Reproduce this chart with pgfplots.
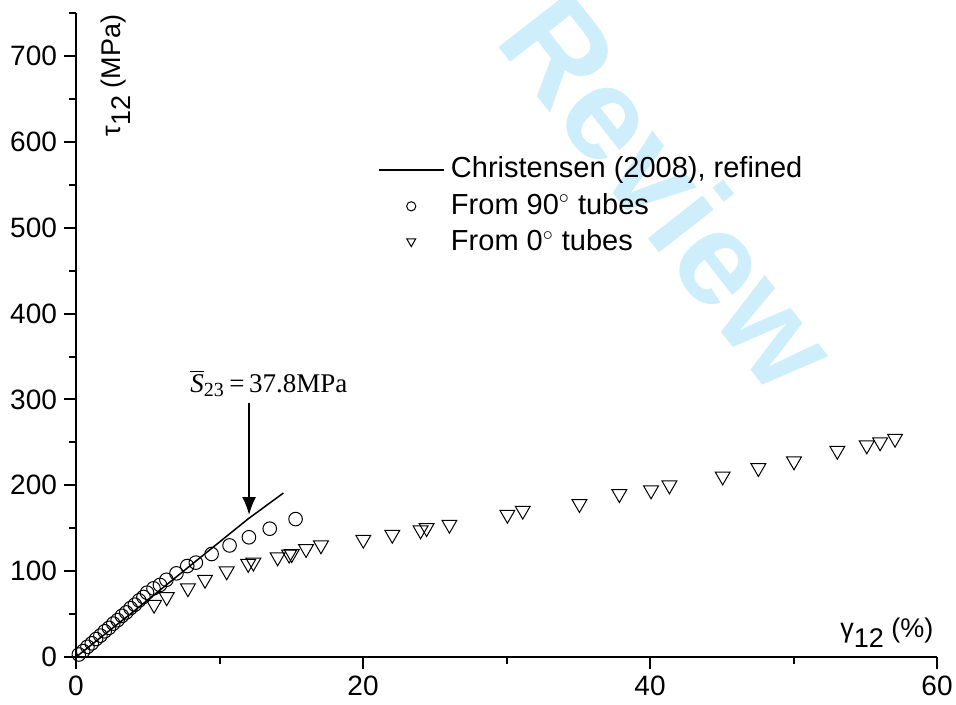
\documentclass[border=0pt]{standalone}
\usepackage{pgfplots}
\pgfplotsset{compat=1.18}
\usepackage{fontspec}
\setmainfont{Liberation Sans}
\newfontfamily\timesf{Liberation Serif}
\usetikzlibrary{arrows.meta}
\definecolor{wm}{RGB}{207,238,252}
\pgfdeclareplotmark{dtri}{%
  \pgfpathmoveto{\pgfqpoint{-0.866\pgfplotmarksize}{0.75\pgfplotmarksize}}%
  \pgfpathlineto{\pgfqpoint{0.866\pgfplotmarksize}{0.75\pgfplotmarksize}}%
  \pgfpathlineto{\pgfqpoint{0pt}{-0.75\pgfplotmarksize}}%
  \pgfpathclose\pgfusepathqstroke}
\begin{document}
\begin{tikzpicture}
\begin{axis}[
  scale only axis, width=430.5pt, height=322pt,
  xmin=0, xmax=60, ymin=0, ymax=750,
  axis x line*=bottom, axis y line*=left,
  axis line style={line width=1pt, -},
  xtick={0,20,40,60}, minor xtick={10,30,50},
  ytick={0,100,...,700}, minor ytick={50,150,...,750},
  tick align=outside, major tick length=6pt, minor tick length=3.5pt,
  tick style={line width=1pt, black},
  tick label style={font=\fontsize{14}{16}\selectfont},
  /pgf/number format/assume math mode=true,
  clip=false,
  legend style={draw=none, fill=none, at={(axis cs:21.05,589)}, anchor=north west,
    font=\fontsize{14.5}{17}\selectfont, inner sep=0pt, row sep=0pt, column sep=3pt,
    nodes={inner xsep=0pt, inner ysep=1.6pt, text height=11.5pt, text depth=3.5pt}},
  legend cell align=left,
]
\node[rotate=-52, text=wm, font=\fontsize{66}{66}\selectfont\bfseries] at (axis cs:36.1,657) {For Review};

\addplot[black, line width=0.75pt,
  legend image code/.code={\draw[black,line width=0.75pt] (0pt,0pt) -- (32.5pt,0pt);}]
  coordinates {(0,0) (4,53) (8,107) (10,134) (12,161) (14.45,191)};
\addlegendentry{Christensen (2008), refined}

\addplot[black, only marks, mark=o, mark size=3.4pt, mark options={line width=0.5pt},
  legend image code/.code={\path[draw=none, fill=none] (0pt,0pt) -- (32.5pt,0pt);
    \path[draw=black, line width=0.5pt, mark size=2.3pt] plot[only marks, mark=o] coordinates {(16pt,0pt)};}]
  coordinates {
  (0.2,3) (0.5,7) (0.8,12) (1.1,16) (1.4,21) (1.7,25) (2.0,30) (2.3,34)
  (2.6,39) (2.9,43) (3.2,48) (3.5,52) (3.8,57) (4.1,61) (4.4,66) (4.7,70)
  (4.95,75) (5.4,80) (5.85,84) (6.3,90) (7.0,97.5) (7.75,106) (8.35,110)
  (9.45,120) (10.7,130) (12.05,139.5) (13.5,149.5) (15.3,160.7)};
\addlegendentry{From 90$^{\circ}$ tubes}

\addplot[black, only marks, mark=dtri, mark size=4.3pt, mark options={line width=0.5pt},
  legend image code/.code={\path[draw=none, fill=none] (0pt,0pt) -- (32.5pt,0pt);
    \path[draw=black, line width=0.5pt, mark size=2.6pt] plot[only marks, mark=dtri] coordinates {(16pt,0pt)};}]
  coordinates {
  (5.44,58.6) (6.32,67.4) (7.8,77.8) (8.99,87.7) (10.5,97.5) (12.0,106.2)
  (12.36,107.7) (14.05,113.8) (14.85,117) (15.03,117.6) (16.03,123.5) (17.07,127.8)
  (20.02,134.3) (22.04,140.1) (24.01,145.2) (24.43,147.9) (26.02,151.8) (30.06,163.4)
  (31.13,168.1) (35.08,175.9) (37.86,187.5) (40.07,191.8) (41.35,197.6) (45.06,208)
  (47.55,217.8) (50.03,225.6) (53.05,237.9) (55.1,244.2) (56.03,247.8) (57.07,251.9)};
\addlegendentry{From 0$^{\circ}$ tubes}

\draw[line width=1pt, -{Latex[length=9pt,width=7pt]}] (axis cs:12.06,295.8) -- (axis cs:12.06,165.4);
\node[anchor=base west, inner sep=0pt, font=\fontsize{13.5}{16}\selectfont\timesf] at (axis cs:7.94,308.6)
  {$\overline{\mbox{\timesf\itshape S}}_{\mbox{\timesf\fontsize{10}{10}\selectfont 23}}$\,=\,37.8MPa};
\node[anchor=base west, inner sep=0pt, rotate=90, font=\fontsize{13.5}{16}\selectfont] at (axis cs:3.07,605.6)
  {τ\raisebox{-0.4em}{12} (MPa)};
\node[anchor=base west, inner sep=0pt, font=\fontsize{13.5}{16}\selectfont] at (axis cs:53.24,23.3)
  {γ\raisebox{-0.4em}{12} (\%)};

\coordinate (bbSW) at (axis cs:-5.296,-54.74);
\coordinate (bbNE) at (axis cs:61.32,765.2);
\end{axis}
\pgfresetboundingbox
\path[use as bounding box] (bbSW) rectangle (bbNE);
\end{tikzpicture}
\end{document}
